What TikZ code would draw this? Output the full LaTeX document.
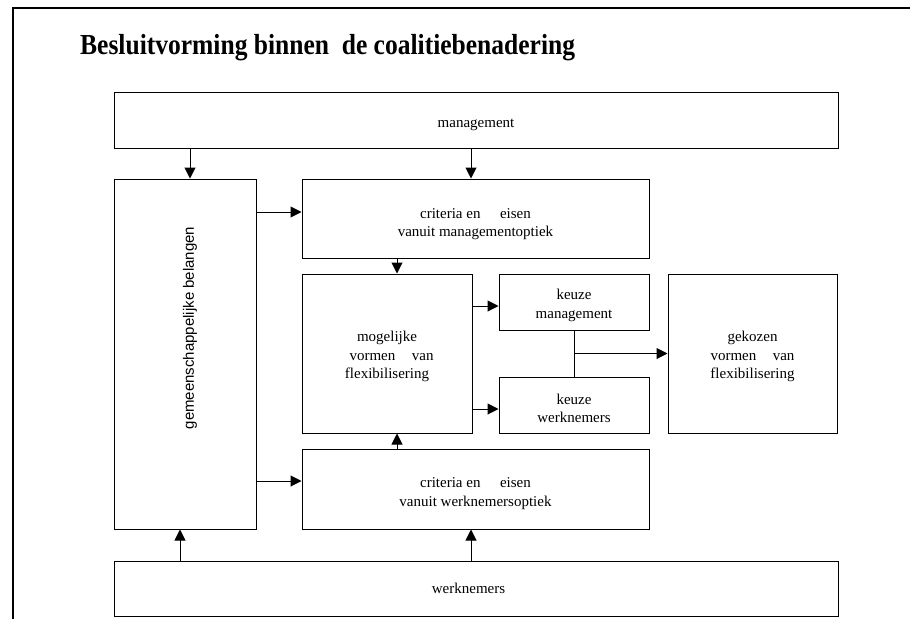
\documentclass[tikz,border=0pt]{standalone}
\usepackage{fontspec}
\setmainfont{Liberation Serif}
\newfontfamily\labelsans{Liberation Sans}
\usetikzlibrary{arrows.meta}

% raises the first line so a text block sits a little lower in its box
\newcommand{\lowerby}[1]{\rule{0pt}{\dimexpr 11pt+2\dimexpr #1\relax\relax}}

\begin{document}
\begin{tikzpicture}[x=1pt,y=-1pt,
  every node/.style={inner sep=0pt},
  box/.style={draw,line width=1pt,align=center,
    font=\fontsize{15}{18.5}\selectfont},
  arr/.style={line width=1pt,-{Triangle[length=11pt,width=11pt]}},
  conn/.style={line width=1pt}]

\useasboundingbox (0,0) rectangle (910,619);

% outer frame (left and top edges)
\draw[line width=1.6pt] (13,619) -- (13,8) -- (910,8);

% title
\node[anchor=base west] (title) at (80,54)
  {\scalebox{0.88}[1]{\fontsize{29}{34}\selectfont\bfseries Besluitvorming binnen\hspace{0.25em} de coalitiebenadering}};

% boxes
\node[box,minimum width=724pt,minimum height=56pt] (mgmt) at (476,120) {\lowerby{3.5pt}management};
\node[box,minimum width=142pt,minimum height=350pt] (gem) at (185,354) {};
\node[rotate=90,font=\labelsans\fontsize{15}{18}\selectfont] (gemtxt) at (190,328)
  {gemeenschappelijke belangen};
\node[box,minimum width=347pt,minimum height=79pt] (critm) at (475.5,218.5)
  {\lowerby{5pt}criteria en\hspace{1.3em}eisen\\ vanuit managementoptiek\hspace{1.2em}};
\node[box,minimum width=170pt,minimum height=159pt] (mog) at (387,353.5)
  {\lowerby{3pt}mogelijke\\ \hspace{0.6em}vormen\hspace{1.1em}van\\ flexibilisering\hspace{0.8em}};
\node[box,minimum width=150pt,minimum height=56pt] (keum) at (574,302)
  {\lowerby{3pt}keuze\\ management};
\node[box,minimum width=150pt,minimum height=56pt] (keuw) at (574,405)
  {\lowerby{3pt}keuze\\ werknemers};
\node[box,minimum width=169pt,minimum height=159pt] (gek) at (752.5,353.5)
  {\lowerby{3pt}gekozen\\ vormen\hspace{1.1em}van\\ flexibilisering\hspace{0.8em}};
\node[box,minimum width=347pt,minimum height=80pt] (critw) at (475.5,489)
  {\lowerby{4pt}criteria en\hspace{1.3em}eisen\\ vanuit werknemersoptiek\hspace{1.2em}};
\node[box,minimum width=724pt,minimum height=55pt] (werk) at (476,588.5)
  {werknemers\hspace{1em}};

% connectors
\draw[arr] ([xshift=5pt]gem.north |- mgmt.south) -- ([xshift=5pt]gem.north);
\draw[arr] ([xshift=-4.5pt]critm.north |- mgmt.south) -- ([xshift=-4.5pt]critm.north);
\draw[arr] ([yshift=6.5pt]critm.west -| gem.east) -- ([yshift=6.5pt]critm.west);
\draw[arr] ([yshift=8pt]critw.west -| gem.east) -- ([yshift=8pt]critw.west);
\draw[arr] ([xshift=10pt]mog.north |- critm.south) -- ([xshift=10pt]mog.north);
\draw[arr] ([xshift=10pt]mog.south |- critw.north) -- ([xshift=10pt]mog.south);
\draw[arr] ([yshift=-4pt]keum.west -| mog.east) -- ([yshift=-4pt]keum.west);
\draw[arr] ([yshift=-4pt]keuw.west -| mog.east) -- ([yshift=-4pt]keuw.west);
\draw[conn] (keum.south) -- (keuw.north);
\draw[arr] (keum.south |- gek.west) -- (gek.west);
\draw[arr] ([xshift=-5pt]gem.south |- werk.north) -- ([xshift=-5pt]gem.south);
\draw[arr] ([xshift=-4.5pt]critw.south |- werk.north) -- ([xshift=-4.5pt]critw.south);
\end{tikzpicture}
\end{document}
